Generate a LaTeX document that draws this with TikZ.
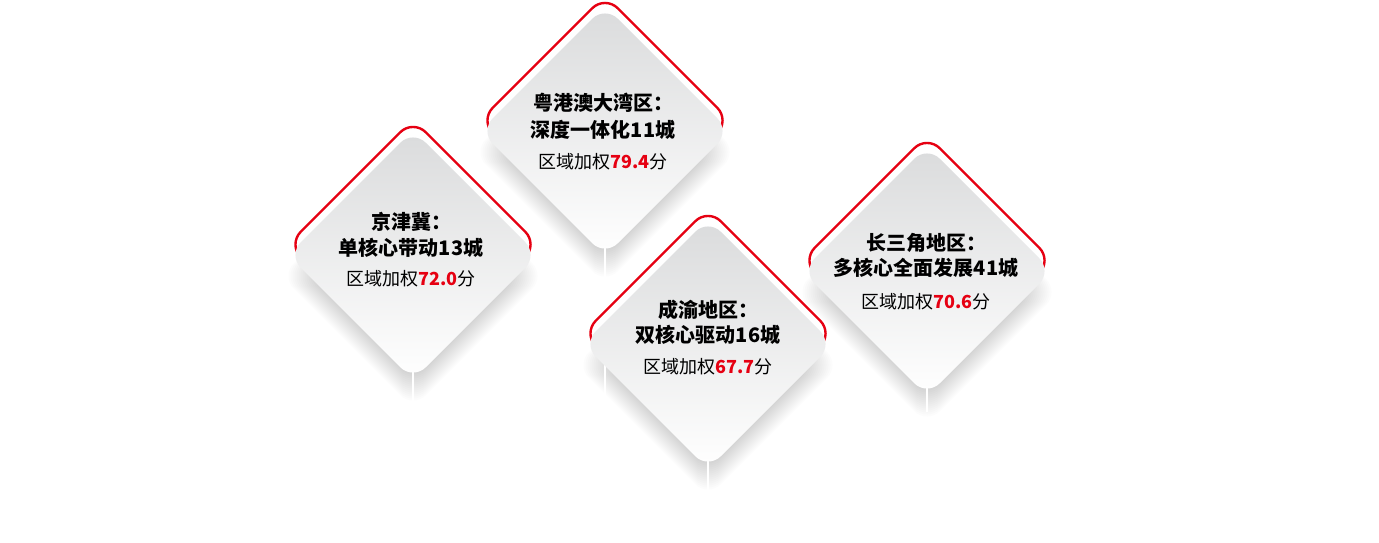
\documentclass[tikz,border=0pt]{standalone}
\usepackage{fontspec}
\newfontfamily\cjk{Noto Sans CJK SC}
\definecolor{hred}{RGB}{230,0,18}
\definecolor{ftop}{RGB}{218,219,220}
% rounded diamond: centre (#1,#2), half diagonal #3
\newcommand\dias[3]{(#1-#3/2,#2-#3/2) -- (#1,#2-#3) -- (#1+#3,#2) -- (#1,#2+#3) -- (#1-#3,#2) -- cycle}
\newcommand\dia[2]{\dias{#1}{#2}{125}}
\tikzset{
  shadlayer/.style={fill=black, opacity=0.013, rounded corners=18pt},
  rim/.style={draw=hred, line width=2.4pt, rounded corners=18pt},
  face/.style={top color=ftop, bottom color=white, rounded corners=18pt},
  gap/.style={draw=white, line width=1.6pt},
  head/.style={font=\cjk\bfseries\fontsize{20pt}{24pt}\selectfont, inner sep=0pt},
  score/.style={font=\cjk\fontsize{18pt}{22pt}\selectfont, inner sep=0pt},
}
\newcommand\num[1]{{\bfseries\color{hred}#1}}
\newcommand\shadowof[2]{%
  \foreach \r in {132,130,...,106}{\fill[shadlayer] \dias{#1}{#2+21}{\r};}%
}
\newcommand\facebox[2]{%
  \begin{scope}
    \clip (#1-140,#2-150) rectangle (#1+140,#2-3);
    \draw[rim] \dia{#1}{#2-10.5};
  \end{scope}
  \path[face] \dia{#1}{#2};
}
\begin{document}
\begin{tikzpicture}[x=1pt,y=-1pt]
\fill[white] (0,0) rectangle (1379,543);
\useasboundingbox (0,0) rectangle (1379,543);
% shadows
\shadowof{605}{131}
\shadowof{413}{255}
\shadowof{927}{271}
\shadowof{708}{344}
% fold lines under the shadows
\coordinate (g1a) at (605,248); \coordinate (g1b) at (605,400);
\coordinate (g2a) at (413,372); \coordinate (g2b) at (413,412);
\coordinate (g4a) at (927,388); \coordinate (g4b) at (927,412);
\coordinate (g3a) at (708,461); \coordinate (g3b) at (708,500);
\draw[gap] (g1a) -- (g1b);
\draw[gap] (g2a) -- (g2b);
\draw[gap] (g4a) -- (g4b);
\draw[gap] (g3a) -- (g3b);
% diamonds
\facebox{605}{131}
\facebox{413}{255}
\facebox{927}{271}
\facebox{708}{344}
% texts
\node[head]  (d1a) at (603,103) {粤港澳大湾区：};
\node[head]  (d1b) at (603,130) {深度一体化11城};
\node[score] (d1c) at (603,162) {区域加权\num{79.4}分};
\node[head]  (d2a) at (411,222) {京津冀：};
\node[head]  (d2b) at (411,248) {单核心带动13城};
\node[score] (d2c) at (411,279) {区域加权\num{72.0}分};
\node[head]  (d4a) at (926,243) {长三角地区：};
\node[head]  (d4b) at (926,268) {多核心全面发展41城};
\node[score] (d4c) at (926,302) {区域加权\num{70.6}分};
\node[head]  (d3a) at (708,310) {成渝地区：};
\node[head]  (d3b) at (708,335) {双核心驱动16城};
\node[score] (d3c) at (708,367) {区域加权\num{67.7}分};
\end{tikzpicture}
\end{document}
